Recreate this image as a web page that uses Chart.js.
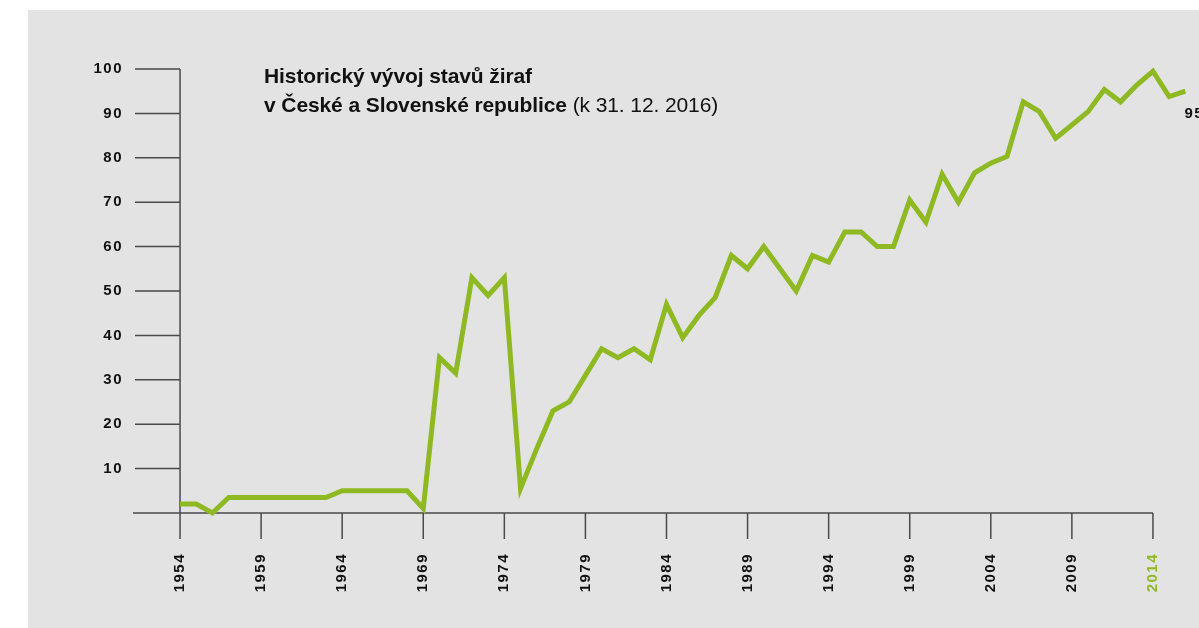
<!DOCTYPE html>
<html lang="cs">
<head>
<meta charset="utf-8">
<title>Historický vývoj stavů žiraf</title>
<script src="https://cdn.jsdelivr.net/npm/chart.js@4.4.1/dist/chart.umd.min.js"></script>
<style>
  html, body { margin: 0; padding: 0; background: #ffffff; }
  body { width: 1199px; height: 628px; position: relative; overflow: hidden; }
  #pozadi { position: absolute; left: 28px; top: 10px; right: 0; bottom: 0; background: #e3e3e3; }
  #graf { position: absolute; left: 0; top: 0; }
  #nadpis {
    position: absolute; left: 264px; top: 61px;
    font-family: "Liberation Sans", Arial, sans-serif; font-size: 21px; line-height: 29px;
    color: #111; font-weight: bold; letter-spacing: -0.1px;
  }
  #nadpis span { font-weight: normal; }
</style>
</head>
<body>
<div id="pozadi"></div>
<canvas id="graf" width="1199" height="628"></canvas>
<div id="nadpis">Historický vývoj stavů žiraf<br>v České a Slovenské republice <span>(k 31. 12. 2016)</span></div>
<script>
// roky 1954 - 2016
const roky = Array.from({ length: 63 }, (_, i) => 1954 + i);
// počet žiraf v jednotlivých letech
const zirafy = [
  2, 2, 0, 3.5, 3.5, 3.5, 3.5, 3.5, 3.5, 3.5,
  5, 5, 5, 5, 5, 1,
  35, 31.5, 53, 49, 53,
  5.5, 14.5, 23, 25, 31, 37, 35, 37, 34.5, 47,
  39.5, 44.5, 48.5, 58, 55, 60, 55, 50, 58, 56.5,
  63.3, 63.3, 60, 60, 70.5, 65.5, 76.3, 70, 76.6, 78.8,
  80.3, 92.6, 90.4, 84.4, 87.4, 90.4, 95.4, 92.6, 96.4, 99.5, 93.8, 95
];
// popisky os
const rokyOsa = [1954, 1959, 1964, 1969, 1974, 1979, 1984, 1989, 1994, 1999, 2004, 2009, 2014];
const hodnotyOsa = [10, 20, 30, 40, 50, 60, 70, 80, 90, 100];
const zvyrazenyRok = 2014;

const zelena = "#8fb923";
const cerna = "#111111";
const osaBarva = "#4a4a4a";

// vlastní kreslení os, tiků a popisku poslední hodnoty
const osyPlugin = {
  id: "osy",
  beforeDraw(chart) {
    chart.ctx.letterSpacing = "1.5px";
  },
  beforeDatasetsDraw(chart) {
    const ctx = chart.ctx;
    const x = chart.scales.x;
    const y = chart.scales.y;
    const x0 = x.getPixelForValue(rokyOsa[0]);
    const y0 = y.getPixelForValue(0);
    ctx.save();
    ctx.strokeStyle = osaBarva;
    ctx.lineWidth = 1.5;
    ctx.beginPath();
    // svislá osa
    ctx.moveTo(x0, y.getPixelForValue(100));
    ctx.lineTo(x0, y0);
    // tiky na svislé ose
    hodnotyOsa.forEach((v) => {
      const py = y.getPixelForValue(v);
      ctx.moveTo(chart.chartArea.left + 2, py);
      ctx.lineTo(x0, py);
    });
    // vodorovná osa
    ctx.moveTo(chart.chartArea.left, y0);
    ctx.lineTo(x.getPixelForValue(rokyOsa[rokyOsa.length - 1]), y0);
    // tiky na vodorovné ose
    rokyOsa.forEach((r) => {
      const px = x.getPixelForValue(r);
      ctx.moveTo(px, y0);
      ctx.lineTo(px, y0 + 26);
    });
    ctx.stroke();
    ctx.restore();
  },
  afterDatasetsDraw(chart) {
    const ctx = chart.ctx;
    const posledni = zirafy[zirafy.length - 1];
    const px = chart.scales.x.getPixelForValue(roky[roky.length - 1]);
    const py = chart.scales.y.getPixelForValue(posledni);
    ctx.save();
    ctx.font = "bold 15px 'Liberation Sans', Arial, sans-serif";
    ctx.fillStyle = cerna;
    ctx.textAlign = "left";
    ctx.textBaseline = "alphabetic";
    ctx.fillText(String(Math.round(posledni)), px - 1, py + 27);
    ctx.restore();
  }
};

new Chart(document.getElementById("graf").getContext("2d"), {
  type: "line",
  data: {
    datasets: [
      {
        label: "Počet žiraf",
        data: roky.map((r, i) => ({ x: r, y: zirafy[i] })),
        borderColor: zelena,
        borderWidth: 5,
        borderJoinStyle: "miter",
        pointRadius: 0,
        tension: 0,
        fill: false,
        clip: false
      }
    ]
  },
  options: {
    responsive: false,
    animation: false,
    events: [],
    layout: { padding: { top: 69, left: 0, right: 0, bottom: 0 } },
    plugins: {
      legend: { display: false },
      title: { display: false },
      tooltip: { enabled: false }
    },
    scales: {
      x: {
        type: "linear",
        min: 1951.1,
        max: 2016.84,
        grid: { display: false, drawTicks: false },
        border: { display: false },
        afterBuildTicks: (scale) => {
          scale.ticks = rokyOsa.map((r) => ({ value: r }));
        },
        afterFit: (scale) => {
          scale.height = 115;
          scale.paddingLeft = 0;
          scale.paddingRight = 0;
        },
        ticks: {
          autoSkip: false,
          minRotation: 90,
          maxRotation: 90,
          padding: 40,
          color: (c) => (c.tick && c.tick.value === zvyrazenyRok ? zelena : cerna),
          font: { family: "'Liberation Sans', Arial, sans-serif", size: 15, weight: "bold" },
          callback: (v) => String(v)
        }
      },
      y: {
        min: 0,
        max: 100,
        grid: { display: false, drawTicks: false },
        border: { display: false },
        afterBuildTicks: (scale) => {
          scale.ticks = hodnotyOsa.map((v) => ({ value: v }));
        },
        afterFit: (scale) => {
          scale.width = 133;
          scale.paddingTop = 0;
          scale.paddingBottom = 0;
        },
        ticks: {
          padding: 10,
          color: cerna,
          font: { family: "'Liberation Sans', Arial, sans-serif", size: 15, weight: "bold" }
        }
      }
    }
  },
  plugins: [osyPlugin]
});
</script>
</body>
</html>
